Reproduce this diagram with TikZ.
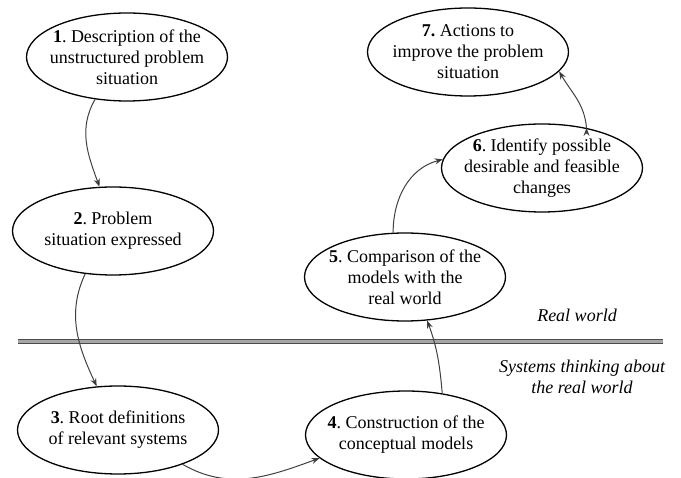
\documentclass[tikz,border=0pt]{standalone}
\usepackage{fontspec}
\setmainfont{Liberation Serif}
\usetikzlibrary{arrows.meta,shapes.geometric}

\begin{document}
\begin{tikzpicture}[x=1pt,y=-1pt,>={Stealth[length=8pt,width=6pt]},
  stagetext/.style={align=center,inner sep=0pt,font=\fontsize{18}{21}\selectfont},
  stage/.style={ellipse,draw,line width=1.3pt,inner sep=0pt,minimum width=201pt,
    minimum height=88pt,label={[stagetext]center:{#1}}},
  flow/.style={->,line width=1pt,draw=black!75},
  worldlabel/.style={align=center,font=\fontsize{18}{21}\selectfont\itshape}]
  \useasboundingbox (0,0) rectangle (681,478);

  \node[stage={\textbf{1}.\ Description of the\\unstructured problem\\situation}] (s1) at (127,57) {};
  \node[stage={\textbf{2}.\ Problem\\situation expressed}] (s2) at (113,231) {};
  \node[stage={\textbf{3}.\ Root definitions\\of relevant systems}] (s3) at (118,430) {};
  \node[stage={\textbf{4}.\ Construction of the\\conceptual models}] (s4) at (406,435) {};
  \node[stage={\textbf{5}.\ Comparison of the\\models with the\\real world}] (s5) at (405,277) {};
  \node[stage={\textbf{6}.\ Identify possible\\desirable and feasible\\changes}] (s6) at (542,168) {};
  \node[stage={\textbf{7.}\ Actions to\\improve the problem\\situation}] (s7) at (468,52) {};

  % divider between the two worlds
  \coordinate (divl) at (18,341.5);
  \coordinate (divr) at (663,341.5);
  \draw[double=black!35,double distance=2.2pt,line width=1.4pt,draw=black!70] (divl) -- (divr);
  \node[worldlabel] (real) at (577,315) {Real world};
  \node[worldlabel] (sys) at (582,377) {Systems thinking about\\the real world};

  \path[flow]
    (s1.233) edge[out=240,in=110] (s2.107)
    (s2.237) edge[out=245,in=115] (s3.116)
    (s3.332) edge[out=-30,in=200] (s4.195)
    (s4.49)  edge[out=95,in=290]  (s5.297)
    (s5.105) edge[out=90,in=195]  (s6.175)
    (s6.42)  edge[out=95,in=-60]  (s7.348);
\end{tikzpicture}
\end{document}
